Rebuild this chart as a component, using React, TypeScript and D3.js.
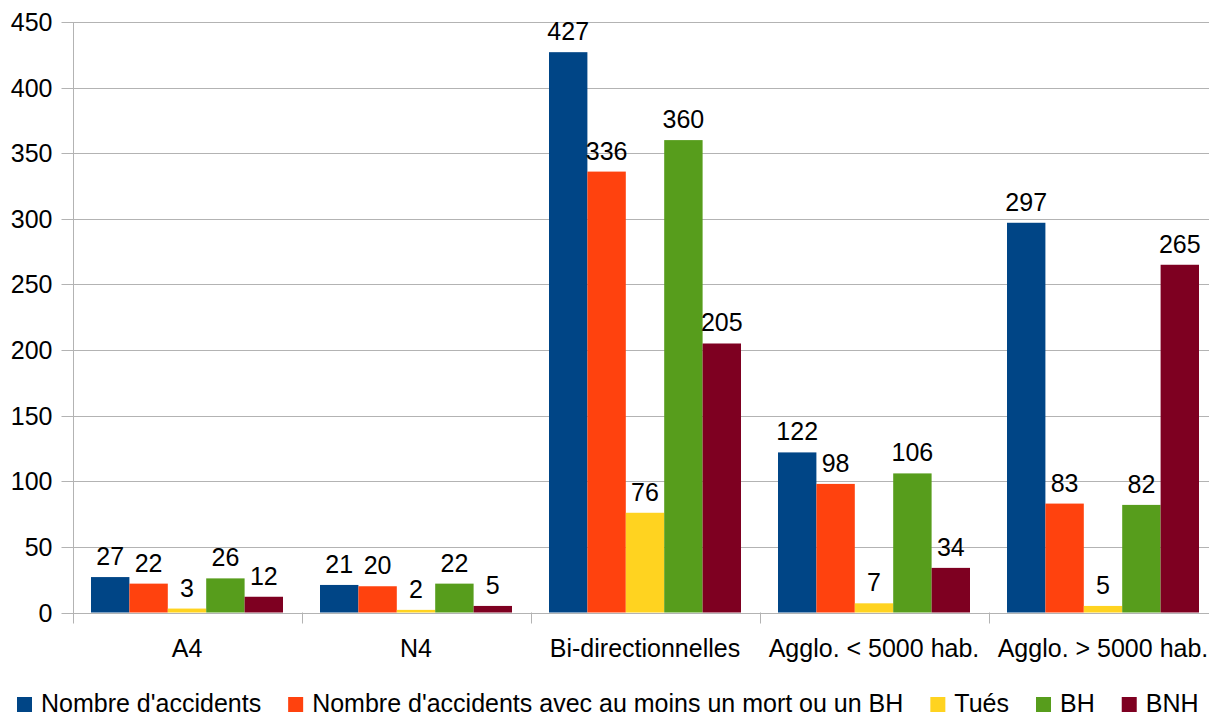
import React, { useRef, useEffect } from "react";
import * as d3 from "d3";

const categories = [
  "A4",
  "N4",
  "Bi-directionnelles",
  "Agglo. < 5000 hab.",
  "Agglo. > 5000 hab.",
];

const seriesNames = [
  "Nombre d'accidents",
  "Nombre d'accidents avec au moins un mort ou un BH",
  "Tués",
  "BH",
  "BNH",
];

const nombreAccidents = [27, 21, 427, 122, 297];
const accidentsMortBH = [22, 20, 336, 98, 83];
const tues = [3, 2, 76, 7, 5];
const bh = [26, 22, 360, 106, 82];
const bnh = [12, 5, 205, 34, 265];

const yTicks = [0, 50, 100, 150, 200, 250, 300, 350, 400, 450];

const colors = ["#004586", "#ff420e", "#ffd320", "#579d1c", "#7e0021"];

const App = () => {
  const svgRef = useRef<SVGSVGElement>(null);

  useEffect(() => {
    const W = 1209;
    const H = 716;
    const font = "'Liberation Sans', Arial, sans-serif";
    const fs = 25;
    const series = [nombreAccidents, accidentsMortBH, tues, bh, bnh];

    const left = 72.5;
    const plotW = 229 * 5;
    const top = 22;
    const bottom = 612.5;

    const svg = d3
      .select(svgRef.current)
      .attr("width", W)
      .attr("height", H)
      .style("font-family", font);
    svg.selectAll("*").remove();

    const x = d3.scaleBand().domain(categories).range([left, left + plotW]);
    const inner = d3
      .scaleBand<number>()
      .domain(d3.range(series.length))
      .range([18.5, x.bandwidth() - 18.5]);
    const y = d3.scaleLinear().domain([0, 450]).range([bottom, top]);

    // grid + y ticks
    const grid = svg.append("g");
    grid
      .selectAll("line")
      .data(yTicks)
      .join("line")
      .attr("x1", left - 11)
      .attr("x2", left + plotW)
      .attr("y1", (d) => Math.round(y(d)) + 0.5)
      .attr("y2", (d) => Math.round(y(d)) + 0.5)
      .attr("stroke", "#b3b3b3")
      .attr("stroke-width", 1);

    grid
      .selectAll("text")
      .data(yTicks)
      .join("text")
      .attr("x", left - 20)
      .attr("y", (d) => y(d))
      .attr("dy", "0.36em")
      .attr("text-anchor", "end")
      .attr("font-size", fs)
      .attr("fill", "#000")
      .text((d) => d);

    // y axis line
    svg
      .append("line")
      .attr("x1", Math.round(left) + 0.5)
      .attr("x2", Math.round(left) + 0.5)
      .attr("y1", top)
      .attr("y2", bottom + 11)
      .attr("stroke", "#b3b3b3");

    // x category ticks
    svg
      .append("g")
      .selectAll("line")
      .data(categories.slice(1))
      .join("line")
      .attr("x1", (d) => Math.round(x(d)!) + 0.5)
      .attr("x2", (d) => Math.round(x(d)!) + 0.5)
      .attr("y1", bottom)
      .attr("y2", bottom + 11)
      .attr("stroke", "#b3b3b3");

    // bars
    series.forEach((vals, si) => {
      const g = svg.append("g");
      g.selectAll("rect")
        .data(vals)
        .join("rect")
        .attr("x", (d, i) => x(categories[i])! + inner(si)!)
        .attr("width", inner.bandwidth())
        .attr("y", (d) => y(d))
        .attr("height", (d) => y(0) - y(d))
        .attr("fill", colors[si]);
    });

    // value labels
    series.forEach((vals, si) => {
      svg
        .append("g")
        .selectAll("text")
        .data(vals)
        .join("text")
        .attr("x", (d, i) => x(categories[i])! + inner(si)! + inner.bandwidth() / 2)
        .attr("y", (d) => y(d) - 12)
        .attr("text-anchor", "middle")
        .attr("font-size", fs)
        .attr("fill", "#000")
        .text((d) => d);
    });

    // category labels
    svg
      .append("g")
      .selectAll("text")
      .data(categories)
      .join("text")
      .attr("x", (d) => x(d)! + x.bandwidth() / 2)
      .attr("y", 657)
      .attr("text-anchor", "middle")
      .attr("font-size", fs)
      .attr("fill", "#000")
      .text((d) => d);

    // legend
    const legend = svg.append("g");
    let lx = 17;
    seriesNames.forEach((name, i) => {
      legend
        .append("rect")
        .attr("x", lx)
        .attr("y", 697)
        .attr("width", 15)
        .attr("height", 15)
        .attr("fill", colors[i]);
      const t = legend
        .append("text")
        .attr("x", lx + 24)
        .attr("y", 712)
        .attr("font-size", fs)
        .attr("fill", "#000")
        .text(name);
      const w = (t.node() as SVGTextElement).getComputedTextLength();
      lx += 24 + w + 27;
    });

    return () => {
      svg.selectAll("*").remove();
    };
  }, []);

  return (
    <svg
      ref={svgRef}
      style={{ position: "absolute", left: 0, top: 0, display: "block" }}
    ></svg>
  );
};

export default App;
